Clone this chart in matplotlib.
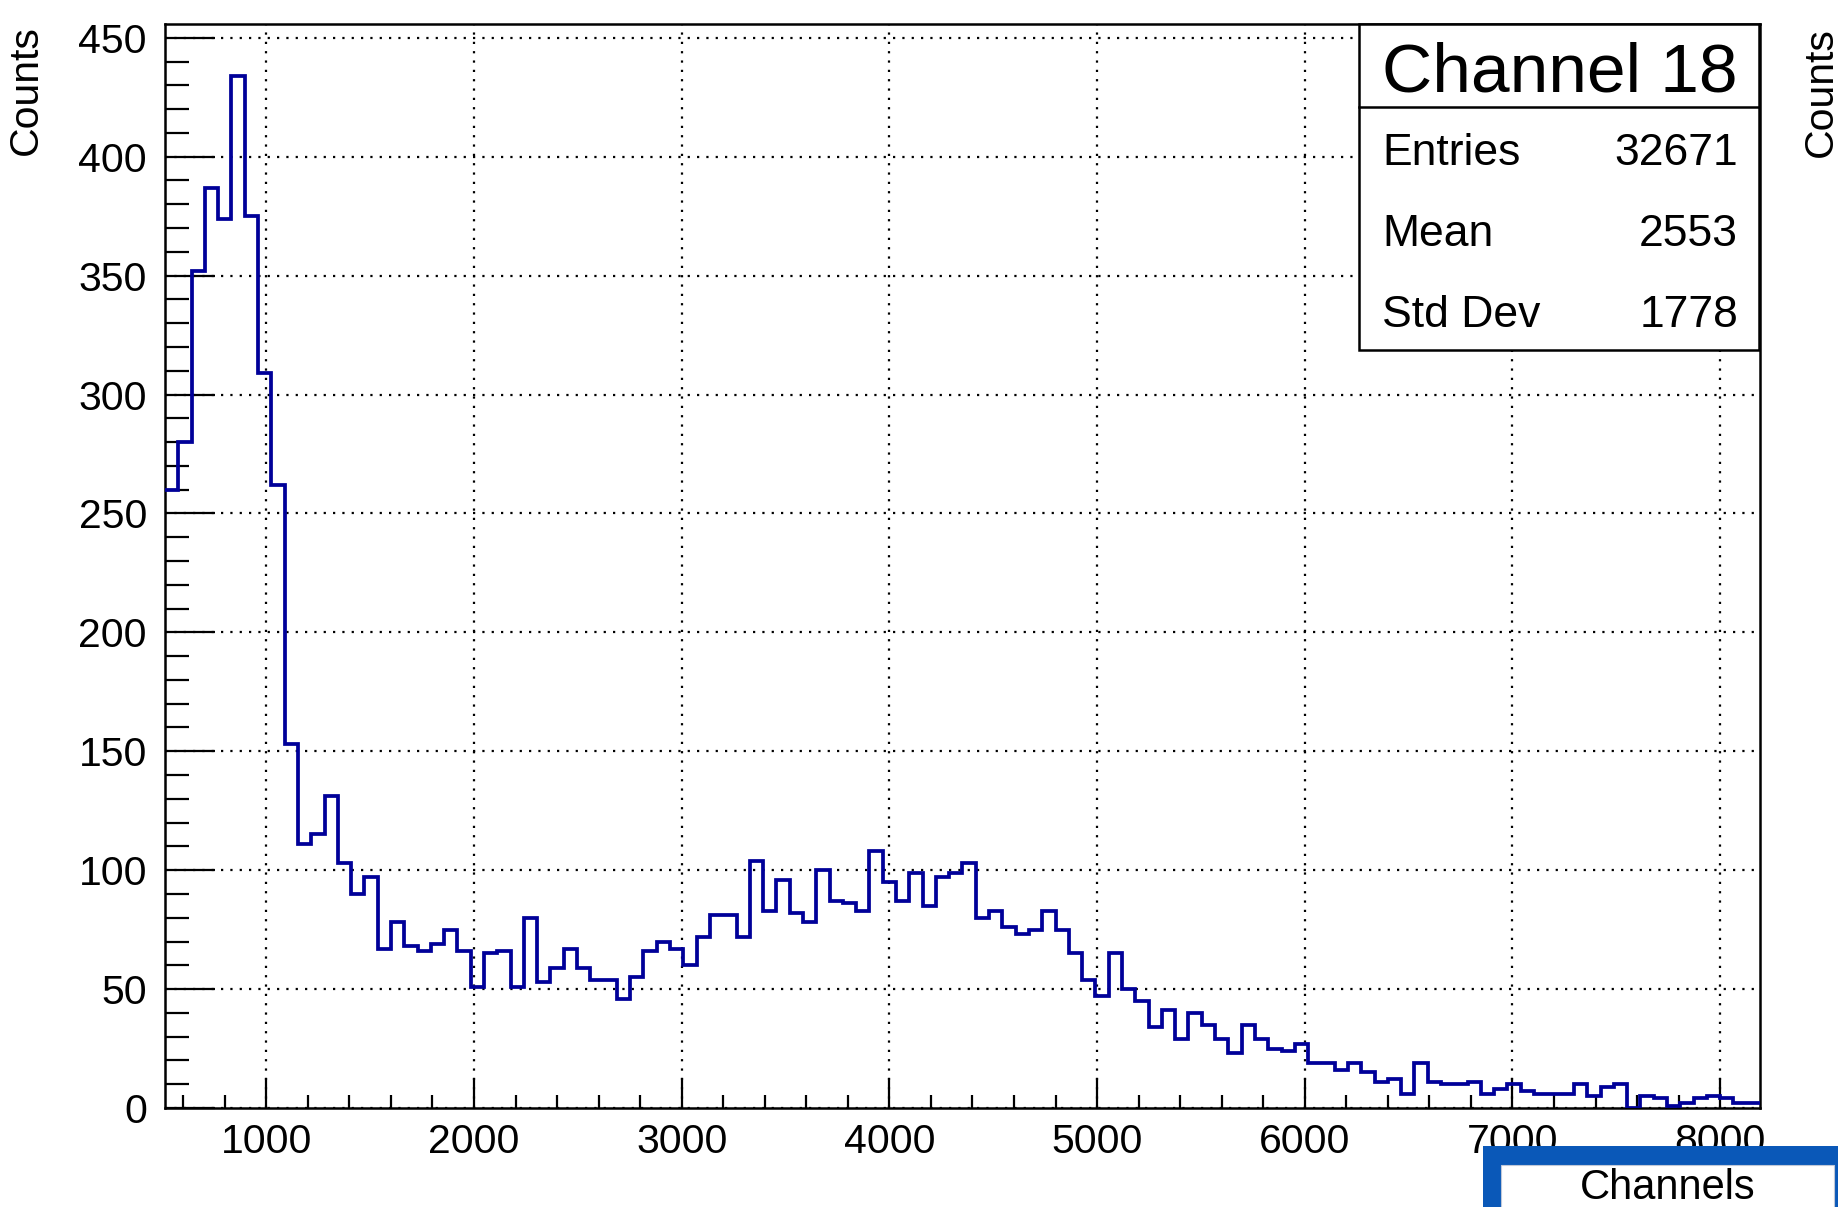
import matplotlib.pyplot as plt
import numpy as np
from matplotlib.lines import Line2D
from matplotlib.patches import Rectangle
from matplotlib.ticker import MultipleLocator

plt.rcParams['font.family'] = ['Liberation Sans', 'DejaVu Sans']

# histogram: 120 bins of width 64 between 512 and 8192
x_min, x_max, bin_width = 512, 8192, 64
counts = [
    260, 280, 352, 387, 374, 434, 375, 309, 262, 153,
    111, 115, 131, 103, 90, 97, 67, 78, 68, 66,
    69, 75, 66, 51, 65, 66, 51, 80, 53, 59,
    67, 59, 54, 54, 46, 55, 66, 70, 67, 60,
    72, 81, 81, 72, 104, 83, 96, 82, 78, 100,
    87, 86, 83, 108, 95, 87, 99, 85, 97, 99,
    103, 80, 83, 76, 73, 75, 83, 75, 65, 54,
    47, 65, 50, 45, 34, 41, 29, 40, 35, 29,
    23, 35, 29, 25, 24, 27, 19, 19, 16, 19,
    15, 11, 12, 6, 19, 11, 10, 10, 11, 6,
    8, 10, 7, 6, 6, 6, 10, 5, 9, 10,
    0, 5, 4, 1, 2, 4, 5, 4, 2, 2,
]
y_max = 456

title = "Channel 18"
stat_names = ["Entries", "Mean", "Std Dev"]
stat_values = ["32671", "2553", "1778"]
x_label = "Channels"
y_label = "Counts"

W, H = 1838, 1207
fig = plt.figure(figsize=(W / 100, H / 100), dpi=100)


def fx(x):
    return x / W


def fy(y):
    return 1 - y / H


ax = fig.add_axes([fx(165), fy(1108), fx(1760) - fx(165), fy(23.5) - fy(1108)])
edges = np.arange(x_min, x_max + bin_width, bin_width)
ax.stairs(counts, edges, baseline=None, color='#000099', lw=2.7, zorder=3)
ax.set_xlim(x_min, x_max)
ax.set_ylim(0, y_max)

ax.xaxis.set_major_locator(MultipleLocator(1000))
ax.xaxis.set_minor_locator(MultipleLocator(200))
ax.yaxis.set_major_locator(MultipleLocator(50))
ax.yaxis.set_minor_locator(MultipleLocator(10))
ax.tick_params(axis='x', which='major', direction='in', length=21.6, width=1.6,
               labelsize=29.5, pad=11, top=False)
ax.tick_params(axis='x', which='minor', direction='in', length=9.4, width=1.6, top=False)
ax.tick_params(axis='y', which='major', direction='in', length=36, width=1.6,
               labelsize=29.5, pad=13, right=False)
ax.tick_params(axis='y', which='minor', direction='in', length=17, width=1.6, right=False)
ax.grid(which='major', color='black', linestyle=(0, (1, 3.2)), lw=1.6)
ax.set_axisbelow(True)
for s in ax.spines.values():
    s.set_linewidth(1.8)

# stats box in the top right corner
fig.add_artist(Rectangle((fx(1359), fy(350)), fx(1759) - fx(1359), fy(24) - fy(350),
                         transform=fig.transFigure, facecolor='white',
                         edgecolor='black', lw=1.8, zorder=5))
fig.add_artist(Line2D([fx(1359), fx(1759)], [fy(107), fy(107)],
                      transform=fig.transFigure, color='black', lw=1.8, zorder=6))
fig.text(fx(1560), fy(92), title, ha='center', va='baseline', fontsize=50, zorder=7)
for i, (name, val) in enumerate(zip(stat_names, stat_values)):
    base = 165 + 81 * i
    fig.text(fx(1382), fy(base), name, ha='left', va='baseline', fontsize=32, zorder=7)
    fig.text(fx(1738), fy(base), val, ha='right', va='baseline', fontsize=32, zorder=7)

# axis titles
fig.text(fx(7), fy(25), y_label, rotation=90, ha='left', va='top', fontsize=29.5)
fig.text(fx(1802), fy(27), y_label, rotation=90, ha='left', va='top', fontsize=29.5)

# x title sits in a highlighted box at the bottom right
fig.add_artist(Rectangle((fx(1483), 0), 1 - fx(1483), fy(1146),
                         transform=fig.transFigure, facecolor='#0a58b8',
                         edgecolor='none', zorder=10))
fig.add_artist(Rectangle((fx(1501), -0.01), fx(1834) - fx(1501), fy(1165) + 0.01,
                         transform=fig.transFigure, facecolor='white',
                         edgecolor='#c0c8d8', lw=0.8, zorder=11))
fig.text(fx(1668), fy(1199), x_label, ha='center', va='baseline', fontsize=30, zorder=12)

fig.savefig('out.png', dpi=100)
